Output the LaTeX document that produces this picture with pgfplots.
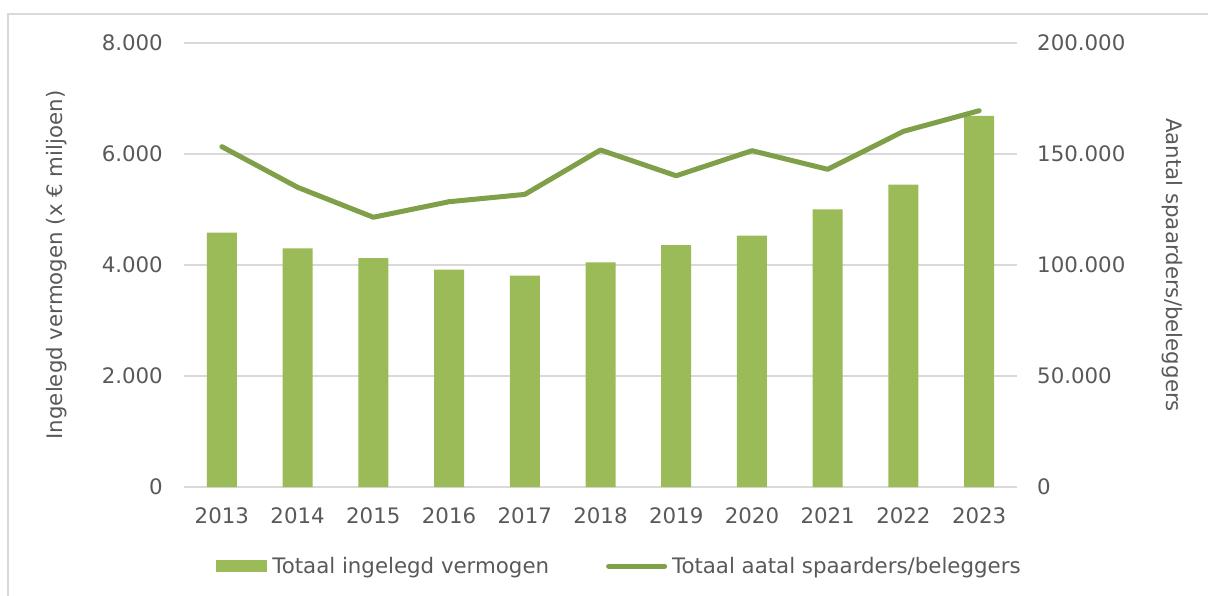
\documentclass[border=0pt]{standalone}
\usepackage{pgfplots}
\pgfplotsset{compat=1.18}
\usepackage{fontspec}
\setmainfont{DejaVu Sans}
\definecolor{barc}{HTML}{9BBB59}
\definecolor{linec}{HTML}{7F9F48}
\definecolor{txt}{HTML}{595959}
\definecolor{gridc}{HTML}{D9D9D9}
\newcommand{\chartfont}{\fontsize{21.4}{25}\selectfont}
\begin{document}
\begin{tikzpicture}
\useasboundingbox (-184bp,-109bp) rectangle (1024bp,487bp);
\draw[gridc, line width=1.2bp] (-176bp,-130bp) -- (-176bp,473bp) -- (1040bp,473bp);
\begin{axis}[
  at={(0,0)}, anchor=south west, scale only axis,
  width=833bp, height=444bp,
  xmin=-0.5, xmax=10.5, ymin=0, ymax=8000,
  xtick={0,1,2,3,4,5,6,7,8,9,10},
  xticklabels={2013,2014,2015,2016,2017,2018,2019,2020,2021,2022,2023},
  ytick={0,2000,4000,6000,8000},
  yticklabels={0,2.000,4.000,6.000,8.000},
  scaled y ticks=false,
  axis line style={draw=none},
  major tick style={draw=none},
  ymajorgrids, grid style={gridc, line width=1.6bp},
  tick label style={font=\chartfont, text=txt, inner sep=0pt},
  yticklabel style={anchor=east, xshift=-21bp},
  xticklabel style={anchor=north, yshift=-20bp},
  ylabel={Ingelegd vermogen (x € miljoen)},
  every axis y label/.style={at={(axis description cs:-0.1525,0.5)}, rotate=90, anchor=center, font=\chartfont, text=txt},
  legend columns=2,
  legend style={draw=none, fill=none, font=\chartfont, text=txt,
    at={(axis description cs:0.5216,-0.178)}, anchor=center,
    nodes={inner sep=0pt},
    /tikz/every odd column/.append style={column sep=5bp},
    /tikz/every even column/.append style={column sep=57bp}},
]
\addplot[ybar, bar width=30bp, fill=barc, draw=none,
  legend image code/.code={\fill[barc] (0bp,-6bp) rectangle (51bp,6bp);}]
  coordinates {(0,4582) (1,4301) (2,4126) (3,3915) (4,3807) (5,4049) (6,4360) (7,4528) (8,5004) (9,5447) (10,6685)};
\addlegendentry{Totaal ingelegd vermogen}
\addlegendimage{legend image code/.code={\draw[linec, line width=5bp, line cap=round] (0bp,0bp) -- (56bp,0bp);}}
\addlegendentry{Totaal aatal spaarders/beleggers}
\end{axis}
\begin{axis}[
  at={(0,0)}, anchor=south west, scale only axis,
  width=833bp, height=444bp,
  xmin=-0.5, xmax=10.5, ymin=0, ymax=200000,
  xtick=\empty,
  ytick={0,50000,100000,150000,200000},
  yticklabels={0,50.000,100.000,150.000,200.000},
  scaled y ticks=false,
  ytick pos=right, yticklabel pos=right,
  axis line style={draw=none},
  major tick style={draw=none},
  tick label style={font=\chartfont, text=txt, inner sep=0pt},
  yticklabel style={anchor=west, xshift=20bp},
  ylabel={Aantal spaarders/beleggers},
  every axis y label/.style={at={(axis description cs:1.1861,0.5)}, rotate=-90, anchor=center, font=\chartfont, text=txt},
]
\addplot[linec, line width=5bp, line cap=round, line join=round, mark=none]
  coordinates {(0,153300) (1,135000) (2,121500) (3,128500) (4,131800) (5,151800) (6,140200) (7,151500) (8,143100) (9,160200) (10,169500)};
\end{axis}
\end{tikzpicture}
\end{document}
